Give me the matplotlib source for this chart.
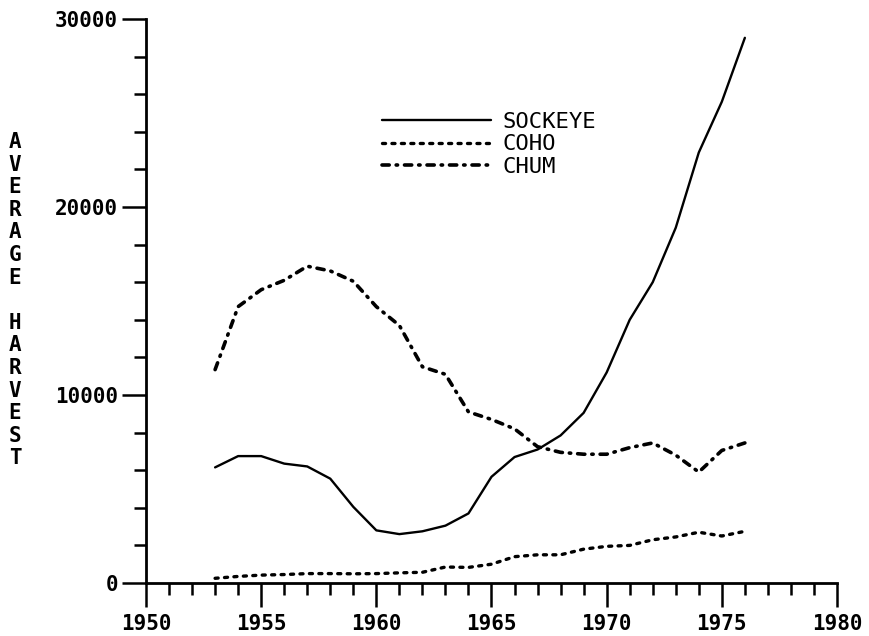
import matplotlib
matplotlib.use("Agg")
import matplotlib.pyplot as plt
from matplotlib.ticker import MultipleLocator, FixedLocator

# Average harvest by species, 1953-1976
years = list(range(1953, 1977))
sockeye = [6150, 6750, 6750, 6350, 6200, 5550, 4050, 2800, 2600, 2750, 3050, 3700,
           5650, 6700, 7100, 7850, 9050, 11200, 14000, 16000, 18900, 22900, 25600, 29000]
coho = [250, 350, 420, 450, 500, 500, 490, 500, 540, 570, 850, 830,
        1000, 1400, 1500, 1500, 1800, 1950, 2000, 2300, 2450, 2700, 2500, 2750]
chum = [11350, 14700, 15600, 16100, 16850, 16600, 16050, 14700, 13700, 11500, 11100, 9100,
        8700, 8200, 7250, 6950, 6850, 6850, 7200, 7450, 6800, 5900, 7050, 7450]

x_major = [1950, 1955, 1960, 1965, 1970, 1975, 1980]
y_major = [0, 10000, 20000, 30000]
y_label = "AVERAGE HARVEST"

plt.rcParams["lines.scale_dashes"] = False
mono = "DejaVu Sans Mono"

W, H = 869, 636
fig = plt.figure(figsize=(W / 100, H / 100), dpi=100)
ax = fig.add_axes([146 / W, 1 - 583 / H, (837 - 146) / W, (583 - 19) / H])

ax.plot(years, sockeye, color="black", lw=1.7, solid_capstyle="round",
        solid_joinstyle="round", label="SOCKEYE", clip_on=False)
# round caps add half a line width to each end of a dash
ax.plot(years, coho, color="black", lw=2.4, dashes=(2.2, 4.6),
        dash_capstyle="round", label="COHO", clip_on=False)
ax.plot(years, chum, color="black", lw=2.6, dashes=(5.2, 5.0, 1.0, 5.0),
        dash_capstyle="round", label="CHUM", clip_on=False)

ax.set_xlim(1950, 1980)
ax.set_ylim(0, 30000)
for s in ("top", "right"):
    ax.spines[s].set_visible(False)
for s in ("left", "bottom"):
    ax.spines[s].set_linewidth(2.0)

ax.xaxis.set_major_locator(FixedLocator(x_major))
ax.xaxis.set_minor_locator(MultipleLocator(1))
ax.yaxis.set_major_locator(FixedLocator(y_major))
ax.yaxis.set_minor_locator(MultipleLocator(2000))
ax.set_xticklabels([str(v) for v in x_major])
ax.set_yticklabels([str(v) for v in y_major])

ax.tick_params(axis="both", which="major", direction="out", length=17, width=1.8)
ax.tick_params(axis="both", which="minor", direction="out", length=8.5, width=1.8)
ax.tick_params(axis="x", which="major", pad=5)
ax.tick_params(axis="y", which="major", pad=3)
for lab in ax.get_xticklabels() + ax.get_yticklabels():
    lab.set_fontfamily(mono)
    lab.set_fontweight("bold")
    lab.set_fontsize(15)

# Stacked axis title, one letter per row
top_y, step = 142, 22.6
for i, ch in enumerate(y_label):
    if ch == " ":
        continue
    fig.text(15 / W, 1 - (top_y + i * step) / H, ch, ha="center", va="center",
             family=mono, weight="bold", fontsize=15)

leg = ax.legend(loc="upper left", bbox_to_anchor=(382 / W, 1 - 112 / H),
                bbox_transform=fig.transFigure, frameon=False,
                prop={"family": mono, "size": 16},
                handlelength=4.9, handletextpad=0.5, labelspacing=0.11,
                borderpad=0, borderaxespad=0)

fig.savefig("out.png", dpi=100)
